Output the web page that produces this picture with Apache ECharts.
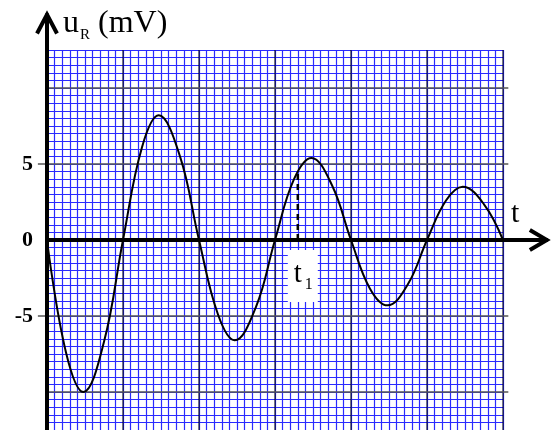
<!DOCTYPE html>
<html><head><meta charset="utf-8">
<script src="https://cdn.jsdelivr.net/npm/echarts@6/dist/echarts.min.js"></script>
<style>html,body{margin:0;padding:0;background:#fff}#c{width:552px;height:430px}</style>
</head><body><div id="c"></div>
<script>
// time in minor grid units, voltage in mV
const tValues = [0, 2.5, 4.8, 7.5, 10, 12.5, 14.7, 17.5, 20, 22.5, 24.7, 27.5, 30, 32.5, 34.8, 37.5, 40, 42.5, 44.8, 47.5, 50, 52.5, 54.7, 57.5, 60];
const uValues = [0, -7.4, -10, -6.7, 0, 6.1, 8.2, 5.5, 0, -4.9, -6.6, -4.4, 0, 4.0, 5.4, 3.6, 0, -3.2, -4.3, -2.9, 0, 2.6, 3.5, 2.35, 0];
const yTickLabels = [-5, 0, 5];
const majorY = [-10, -5, 5, 10];
const majorX = [10, 20, 30, 40, 50, 60];
const t1 = 33;
const uAtT1 = 4.6;
const xRange = [0, 60];
const yRange = [-12.5, 12.5];

const SERIF = '"Liberation Serif","Times New Roman",serif';
const chart = echarts.init(document.getElementById('c'), null, {renderer: 'canvas'});

chart.setOption({
  animation: false,
  grid: {left: 47, right: 49, top: 50, bottom: 0, containLabel: false},
  xAxis: {
    type: 'value', min: xRange[0], max: xRange[1], interval: 1,
    axisLine: {show: false}, axisTick: {show: false}, axisLabel: {show: false},
    splitLine: {show: true, lineStyle: {color: '#2a2aff', width: 1.2}}
  },
  yAxis: {
    type: 'value', min: yRange[0], max: yRange[1], interval: 0.5,
    axisLine: {show: false}, axisTick: {show: false},
    axisLabel: {
      show: true, margin: 14, fontFamily: SERIF, fontWeight: 'bold', fontSize: 22, color: '#000',
      formatter: v => (yTickLabels.indexOf(v) >= 0 ? String(v) : '')
    },
    splitLine: {show: true, lineStyle: {color: '#2a2aff', width: 1.2}}
  },
  series: [{
    type: 'line', data: tValues.map((t, i) => [t, uValues[i]]),
    smooth: 0.4, showSymbol: false, clip: false, z: 5,
    lineStyle: {color: '#000', width: 2}
  }]
});

const P = (x, y) => chart.convertToPixel({gridIndex: 0}, [x, y]);
const seg = (a, b, style, z) => ({type: 'line', z: z, silent: true,
  shape: {x1: a[0], y1: a[1], x2: b[0], y2: b[1]}, style: Object.assign({stroke: '#000', lineWidth: 1}, style)});
const g = [];
majorX.forEach(x => g.push(seg(P(x, yRange[0]), P(x, yRange[1]), {stroke: '#000', lineWidth: 1}, 3)));
majorY.forEach(y => {
  const start = yTickLabels.indexOf(y) >= 0 ? -1.2 : 0;
  g.push(seg(P(start, y), P(60.7, y), {stroke: '#555', lineWidth: 1.6}, 3));
});
const yTip = P(0, 14.9);
const xTip = P(65.9, 0);
g.push(seg(P(0, 0), xTip, {lineWidth: 4}, 8));
g.push(seg(P(0, yRange[0]), yTip, {lineWidth: 4}, 8));
g.push(seg(P(t1, 0), P(t1, uAtT1), {lineWidth: 2.5, lineDash: [6, 4]}, 8));
const tp = P(t1, 0);
g.push(
  {type: 'polyline', z: 10, shape: {points: [[yTip[0] - 10, yTip[1] + 20], [yTip[0], yTip[1] + 1], [yTip[0] + 10, yTip[1] + 20]]}, style: {stroke: '#000', lineWidth: 4, fill: null, lineJoin: 'miter'}},
  {type: 'polyline', z: 10, shape: {points: [[xTip[0] - 18, xTip[1] - 10], [xTip[0] - 1, xTip[1]], [xTip[0] - 18, xTip[1] + 10]]}, style: {stroke: '#000', lineWidth: 4, fill: null, lineJoin: 'miter'}},
  {type: 'text', z: 10, x: 63, y: 24, style: {text: 'u', font: '32px ' + SERIF, fill: '#000', verticalAlign: 'middle'}},
  {type: 'text', z: 10, x: 80, y: 35, style: {text: 'R', font: '15px ' + SERIF, fill: '#000', verticalAlign: 'middle'}},
  {type: 'text', z: 10, x: 98, y: 24, style: {text: '(mV)', font: '32px ' + SERIF, fill: '#000', verticalAlign: 'middle'}},
  {type: 'text', z: 10, x: 511, y: 214, style: {text: 't', font: '30px ' + SERIF, fill: '#000', verticalAlign: 'middle'}},
  {type: 'rect', z: 10, shape: {x: tp[0] - 10, y: tp[1] + 10, width: 30, height: 52}, style: {fill: '#fff'}},
  {type: 'text', z: 11, x: tp[0] - 4, y: tp[1] + 34, style: {text: 't', font: '29px ' + SERIF, fill: '#000', verticalAlign: 'middle'}},
  {type: 'text', z: 11, x: tp[0] + 7, y: tp[1] + 45, style: {text: '1', font: '16px ' + SERIF, fill: '#000', verticalAlign: 'middle'}}
);
chart.setOption({graphic: g});
</script></body></html>
